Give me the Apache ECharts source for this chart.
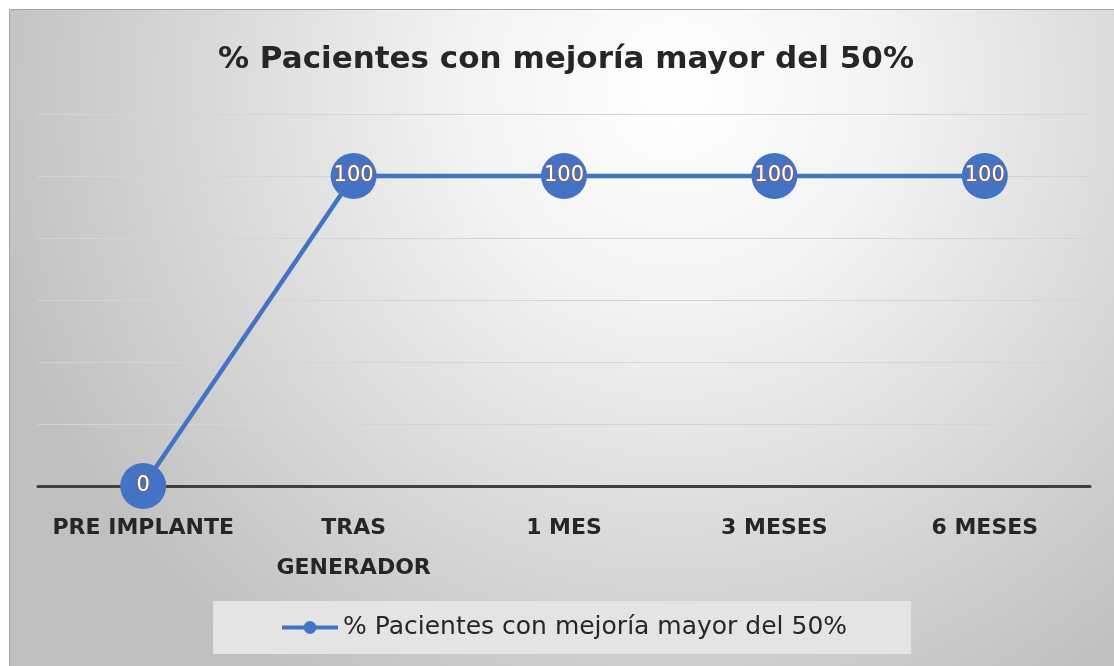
<!DOCTYPE html>
<html><head><meta charset="utf-8">
<script src="https://cdn.jsdelivr.net/npm/echarts@6/dist/echarts.min.js"></script>
<style>html,body{margin:0;padding:0;background:#fff;}#c{width:1114px;height:666px;}</style>
</head><body><div id="c"></div>
<script>
const titleText = '% Pacientes con mejoría mayor del 50%';
const categories = ['PRE IMPLANTE', 'TRAS\nGENERADOR', '1 MES', '3 MESES', '6 MESES'];
const seriesName = '% Pacientes con mejoría mayor del 50%';
const values = [0, 100, 100, 100, 100];

const chart = echarts.init(document.getElementById('c'));
chart.setOption({
  animation: false,
  backgroundColor: '#ffffff',
  graphic: [{
    type: 'rect', z: -10, silent: true,
    shape: { x: 9.5, y: 9.5, width: 1110, height: 670 },
    style: {
      fill: new echarts.graphic.RadialGradient(0.6, 0.12, 1.05, [
        { offset: 0, color: '#ffffff' },
        { offset: 0.3, color: '#f3f3f3' },
        { offset: 1, color: '#c0c0c0' }
      ]),
      stroke: '#a6a6a6', lineWidth: 1
    }
  }],
  title: {
    text: titleText, left: 213, top: 39,
    textStyle: { fontFamily: 'DejaVu Sans', fontWeight: 'bold', fontSize: 31, color: '#262626' }
  },
  grid: { left: 38, right: 24, top: 114, bottom: 180 },
  xAxis: {
    type: 'category', data: categories, boundaryGap: true,
    axisLine: { show: true, lineStyle: { color: '#404040', width: 3 } },
    axisTick: { show: false },
    axisLabel: {
      margin: 22, interval: 0, lineHeight: 40,
      fontFamily: 'DejaVu Sans', fontWeight: 'bold', fontSize: 22, color: '#262626'
    }
  },
  yAxis: {
    type: 'value', min: 0, max: 120, interval: 20,
    axisLine: { show: false }, axisTick: { show: false }, axisLabel: { show: false },
    splitLine: { lineStyle: { color: '#d4d4d4', width: 1 } }
  },
  legend: {
    data: [seriesName], left: 213, top: 601,
    backgroundColor: '#e4e4e4',
    padding: [14, 64, 14, 67],
    itemWidth: 56, itemHeight: 16, itemGap: 7,
    lineStyle: { width: 4 },
    textStyle: { fontFamily: 'DejaVu Sans', fontSize: 25, color: '#262626' }
  },
  series: [{
    name: seriesName, type: 'line', data: values,
    symbol: 'circle', symbolSize: 46,
    lineStyle: { color: '#4472c4', width: 4.5 },
    itemStyle: { color: '#4472c4' },
    label: {
      show: true, position: 'inside',
      fontFamily: 'DejaVu Sans', fontSize: 21, color: '#ffffff',
      textBorderColor: '#c55a11', textBorderWidth: 1
    }
  }]
});
</script></body></html>
